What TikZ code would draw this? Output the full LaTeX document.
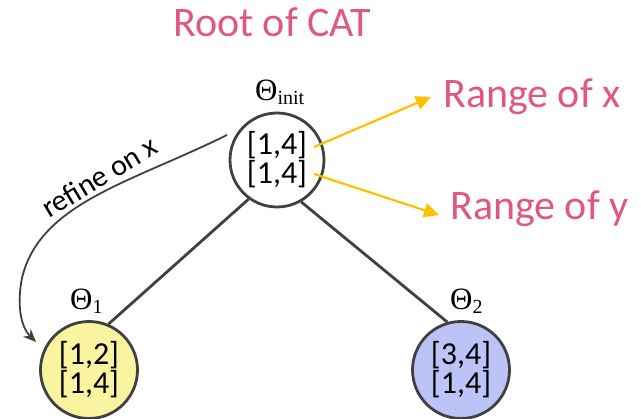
\documentclass[tikz,border=0pt]{standalone}
\usepackage{fontspec}
\setmainfont{Carlito}
\newfontfamily\thetafont{Liberation Serif}
\usetikzlibrary{arrows.meta}

\definecolor{edgegray}{HTML}{404040}
\definecolor{notepink}{HTML}{E0587F}
\definecolor{pointgold}{HTML}{FFC000}
\definecolor{leafyellow}{HTML}{FAF3A0}
\definecolor{leafblue}{HTML}{BCC3F7}

\newcommand{\thlab}[1]{{\thetafont\fontsize{31}{31}\selectfont\char"0398\raisebox{-0.12em}{\fontsize{20}{20}\selectfont #1}}}
\newcommand{\rangepair}[2]{#1\\\relax #2}

\begin{document}
\begin{tikzpicture}[x=1pt,y=-1pt,
  cell/.style={circle, draw=edgegray, line width=2.8pt, minimum size=94pt, inner sep=0pt,
    align=center, font=\fontsize{32}{29}\selectfont},
  treeedge/.style={draw=edgegray, line width=2.8pt},
  note/.style={text=notepink, font=\fontsize{42}{42}\selectfont, inner sep=0pt},
  pointer/.style={draw=pointgold, line width=2.2pt, -{Triangle[length=15pt,width=14pt]}},
  refine/.style={draw=edgegray, line width=1.8pt, -{Stealth[length=13pt,width=11pt]}},
  thlabel/.style={inner sep=0pt}]
\useasboundingbox (0,0) rectangle (641,419);

% tree nodes
\node[cell] (root) at (277,160) {\rangepair{[1,4]}{[1,4]}};
\node[cell, fill=leafyellow, minimum size=97pt] (t1) at (89,370) {\rangepair{[1,2]}{[1,4]}};
\node[cell, fill=leafblue, minimum size=97pt] (t2) at (461,370) {\rangepair{[3,4]}{[1,4]}};

% parameter labels
\node[thlabel, anchor=base west] (lroot) at (255,101) {\thlab{init}};
\node[thlabel, anchor=base west] (l1) at (70,310) {\thlab{1}};
\node[thlabel, anchor=base west] (l2) at (450,310) {\thlab{2}};

% tree edges
\draw[treeedge] (root.234) -- (t1.67);
\draw[treeedge] (root.300) -- (t2.106);

% annotations
\node[note, anchor=base west] (title) at (173,37) {Root of CAT};
\node[note, anchor=base west] (rx) at (443,108) {Range of x};
\node[note, anchor=base west] (ry) at (450,220) {Range of y};

\coordinate (xs) at (314,147);
\coordinate (ys) at (314,174);
\coordinate (xt) at (431,97);
\coordinate (yt) at (439,215);
\draw[pointer] (xs) -- (xt);
\draw[pointer] (ys) -- (yt);

% refinement arc
\coordinate (rs) at (227,135);
\coordinate (re) at (36,342);
\draw[refine] (rs) .. controls (130,183) and (40,203) .. (22,278)
  .. controls (17,303) and (20,326) .. (re);
\node[rotate=31, anchor=base west, font=\fontsize{30}{30}\selectfont, inner sep=0pt] (rl) at (49,219) {refine on x};
\end{tikzpicture}
\end{document}
